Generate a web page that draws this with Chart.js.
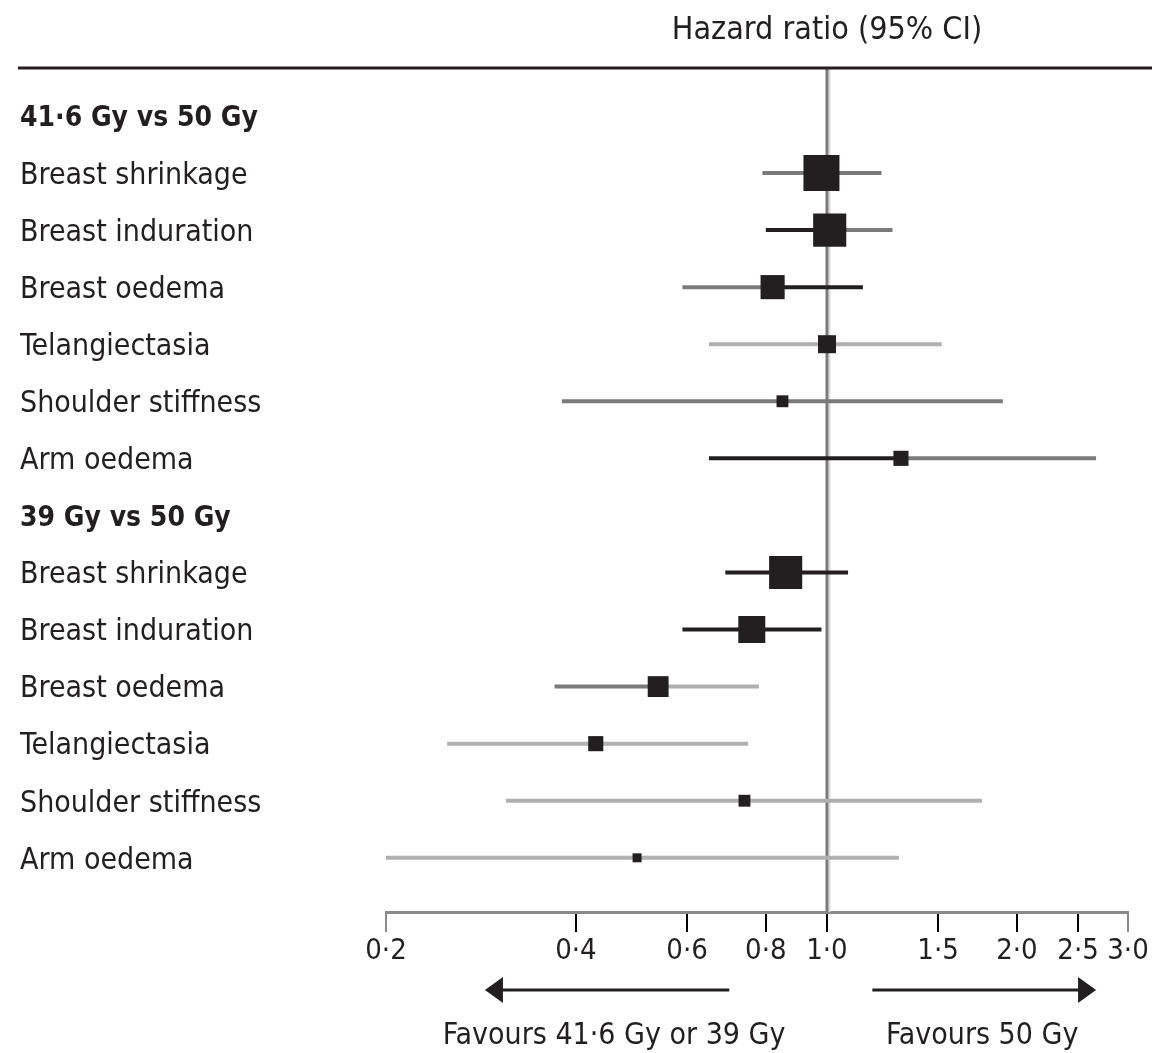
<!DOCTYPE html>
<html>
<head>
<meta charset="utf-8">
<script src="https://cdn.jsdelivr.net/npm/chart.js@4.4.0/dist/chart.umd.min.js"></script>
<style>
  html, body { margin: 0; padding: 0; background: #fff; }
</style>
</head>
<body>
<canvas id="forest" width="1157" height="1053"></canvas>
<script>
// rows from top to bottom, group headers have no estimate
const rowLabels = [
  "41·6 Gy vs 50 Gy",
  "Breast shrinkage",
  "Breast induration",
  "Breast oedema",
  "Telangiectasia",
  "Shoulder stiffness",
  "Arm oedema",
  "39 Gy vs 50 Gy",
  "Breast shrinkage",
  "Breast induration",
  "Breast oedema",
  "Telangiectasia",
  "Shoulder stiffness",
  "Arm oedema"
];
const headerRows = [0, 7];

const hazardRatio = [null, 0.98, 1.01, 0.82, 1.00, 0.85, 1.31, null, 0.86, 0.76, 0.54, 0.43, 0.74, 0.50];
const ciLower     = [null, 0.79, 0.80, 0.59, 0.65, 0.38, 0.65, null, 0.69, 0.59, 0.37, 0.25, 0.31, 0.20];
const ciUpper     = [null, 1.22, 1.27, 1.14, 1.52, 1.90, 2.67, null, 1.08, 0.98, 0.78, 0.75, 1.76, 1.30];
// relative weight of each estimate (largest = 100)
const weights     = [null, 100, 92, 67, 50, 33, 42, null, 92, 75, 58, 42, 33, 25];

const xTicks = [0.2, 0.4, 0.6, 0.8, 1.0, 1.5, 2.0, 2.5, 3.0];

// line tone either side of the estimate (k = black, d = dark grey, l = light grey)
const toneLeft  = [null, "d", "k", "d", "l", "d", "k", null, "k", "k", "d", "l", "l", "l"];
const toneRight = [null, "d", "d", "k", "l", "d", "d", null, "k", "k", "l", "l", "l", "l"];
const tones = { k: "#231f20", d: "#7b7b7b", l: "#b0b0b0" };

const FONT = '"Liberation Sans Narrow", "DejaVu Sans Condensed", "Open Sans", sans-serif';
const INK = "#231f20";
const MAX_BOX = 36;

const points = [];
hazardRatio.forEach((hr, i) => {
  if (hr !== null) points.push({ x: hr, y: i, w: weights[i] });
});

function segment(ctx, x0, y0, x1, y1) {
  ctx.beginPath();
  ctx.moveTo(x0, y0);
  ctx.lineTo(x1, y1);
  ctx.stroke();
}

function arrow(ctx, xFrom, xTo, y) {
  const dir = Math.sign(xTo - xFrom);
  ctx.strokeStyle = INK;
  ctx.fillStyle = INK;
  ctx.lineWidth = 3;
  segment(ctx, xFrom, y, xTo - dir * 10, y);
  ctx.beginPath();
  ctx.moveTo(xTo, y);
  ctx.lineTo(xTo - dir * 18, y - 13);
  ctx.lineTo(xTo - dir * 18, y + 13);
  ctx.closePath();
  ctx.fill();
}

const forestLines = {
  id: "forestLines",
  beforeDatasetsDraw(chart) {
    const { ctx, chartArea, scales: { x, y } } = chart;
    ctx.save();

    // line of no effect
    const x1 = x.getPixelForValue(1);
    ctx.lineWidth = 2;
    ctx.strokeStyle = "#dcdcdc";
    segment(ctx, x1 + 2.5, chartArea.top, x1 + 2.5, chartArea.bottom);
    ctx.lineWidth = 3;
    ctx.strokeStyle = "#7b7b7b";
    segment(ctx, x1, chartArea.top, x1, chartArea.bottom);

    // confidence intervals
    ctx.lineWidth = 4;
    hazardRatio.forEach((hr, i) => {
      if (hr === null) return;
      const yy = y.getPixelForValue(i);
      const xl = x.getPixelForValue(ciLower[i]);
      const xm = x.getPixelForValue(hr);
      const xu = x.getPixelForValue(ciUpper[i]);
      ctx.strokeStyle = tones[toneLeft[i]];
      segment(ctx, xl, yy, xm, yy);
      ctx.strokeStyle = tones[toneRight[i]];
      segment(ctx, xm, yy, xu, yy);
    });
    ctx.restore();
  },
  afterDraw(chart) {
    const { ctx, chartArea, scales: { x } } = chart;
    ctx.save();

    // column title and rule
    ctx.fillStyle = INK;
    ctx.font = "500 32px " + FONT;
    ctx.textAlign = "center";
    ctx.textBaseline = "middle";
    ctx.fillText("Hazard ratio (95% CI)", x.getPixelForValue(1), 31);

    ctx.strokeStyle = INK;
    ctx.lineWidth = 3;
    segment(ctx, 18, chartArea.top, 1152, chartArea.top);

    // favours arrows
    const ay = chartArea.bottom + 78;
    const lTail = x.getPixelForValue(0.70), lHead = x.getPixelForValue(0.287);
    const rTail = x.getPixelForValue(1.18), rHead = x.getPixelForValue(2.67);
    arrow(ctx, lTail, lHead, ay);
    arrow(ctx, rTail, rHead, ay);

    ctx.fillStyle = INK;
    ctx.font = "30px " + FONT;
    ctx.fillText("Favours 41·6 Gy or 39 Gy", (lTail + lHead) / 2 + 7, chartArea.bottom + 124);
    ctx.fillText("Favours 50 Gy", (rTail + rHead) / 2 - 2, chartArea.bottom + 124);
    ctx.restore();
  }
};

new Chart(document.getElementById("forest"), {
  type: "scatter",
  data: {
    datasets: [{
      data: points,
      pointStyle: "rect",
      backgroundColor: INK,
      borderWidth: 0,
      pointRadius: ctx => (MAX_BOX * ctx.raw.w / 100) / Math.SQRT2,
      pointHoverRadius: ctx => (MAX_BOX * ctx.raw.w / 100) / Math.SQRT2
    }]
  },
  options: {
    responsive: false,
    animation: false,
    devicePixelRatio: 1,
    layout: { padding: { top: 68, left: 20, right: 29, bottom: 0 } },
    plugins: {
      legend: { display: false },
      tooltip: { enabled: false }
    },
    scales: {
      x: {
        type: "logarithmic",
        min: 0.2,
        max: 3.0,
        afterBuildTicks: scale => { scale.ticks = xTicks.map(v => ({ value: v })); },
        afterFit: scale => { scale.height = 141; },
        ticks: {
          autoSkip: false,
          maxRotation: 0,
          padding: 2,
          color: INK,
          font: { family: FONT, size: 29 },
          callback: v => Number(v).toFixed(1).replace(".", "·")
        },
        grid: {
          drawOnChartArea: false,
          drawTicks: true,
          tickLength: 20,
          lineWidth: 2,
          color: ctx => (ctx.tick && (ctx.tick.value === 0.2 || ctx.tick.value === 3.0)) ? "#8a8a8a" : "#000000"
        },
        border: { display: true, color: "#8a8a8a", width: 3 }
      },
      y: {
        type: "linear",
        reverse: true,
        min: -0.84,
        max: 13.95,
        afterBuildTicks: scale => { scale.ticks = rowLabels.map((_, i) => ({ value: i })); },
        afterFit: scale => { scale.width = 366; },
        ticks: {
          autoSkip: false,
          crossAlign: "far",
          padding: 0,
          labelOffset: 3,
          color: INK,
          font: ctx => {
            const head = headerRows.includes(ctx.tick && ctx.tick.value);
            return { family: FONT, size: head ? 28 : 30, weight: head ? "bold" : "normal" };
          },
          callback: v => rowLabels[v]
        },
        grid: { display: false },
        border: { display: false }
      }
    }
  },
  plugins: [forestLines]
});
</script>
</body>
</html>
